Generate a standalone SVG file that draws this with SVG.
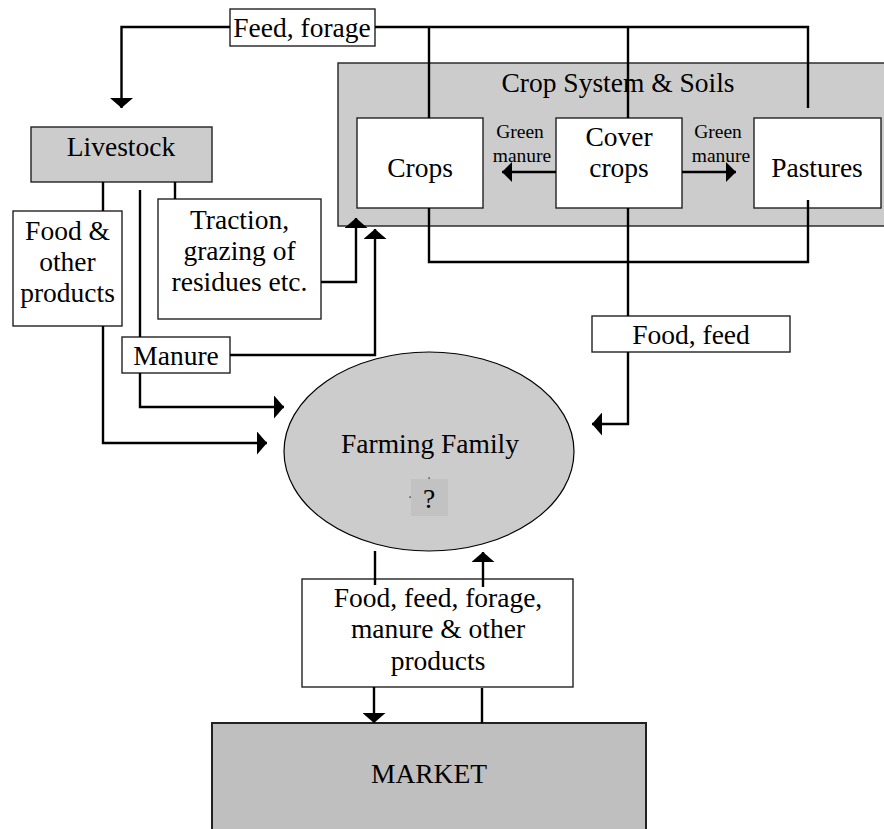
<svg xmlns="http://www.w3.org/2000/svg" width="884" height="829" viewBox="0 0 884 829">
  <style>
    text { font-family: "Liberation Serif", "Times New Roman", serif; font-size: 27.5px; fill: #000; text-anchor: middle; }
    .small { font-size: 19.5px; }
    .box { fill: #fff; stroke: #222; stroke-width: 1.4; }
    .grey { fill: #cccccc; stroke: #222; stroke-width: 1.4; }
    .wire { fill: none; stroke: #000; stroke-width: 2.4; }
  </style>
  <defs>
    <marker id="head" viewBox="0 0 10 23" refX="10" refY="11.5" markerWidth="10" markerHeight="23" markerUnits="userSpaceOnUse" orient="auto">
      <path d="M0,0L10,11.5L0,23z" fill="#000"/>
    </marker>
    <marker id="headS" viewBox="0 0 10 20" refX="10" refY="10" markerWidth="10" markerHeight="20" markerUnits="userSpaceOnUse" orient="auto">
      <path d="M0,0L10,10L0,20z" fill="#000"/>
    </marker>
  </defs>

  <rect width="884" height="829" fill="#fff"/>

  <!-- crop system container -->
  <g id="crop-system">
    <rect class="grey" x="338" y="63" width="560" height="163"/>
    <text x="618" y="92">Crop System &amp; Soils</text>
  </g>
  <g id="crops">
    <rect class="box" x="357" y="118" width="126" height="90"/>
    <text x="420" y="177">Crops</text>
  </g>
  <g id="cover-crops">
    <rect class="box" x="556" y="118" width="126" height="90"/>
    <text x="619" y="146">Cover</text>
    <text x="619" y="177">crops</text>
  </g>
  <g id="pastures">
    <rect class="box" x="754" y="118" width="127" height="90"/>
    <text x="817" y="177">Pastures</text>
  </g>
  <g id="green-manure-left">
    <text class="small" x="520" y="138">Green</text>
    <text class="small" x="522" y="162">manure</text>
  </g>
  <g id="green-manure-right">
    <text class="small" x="718" y="138">Green</text>
    <text class="small" x="721" y="162">manure</text>
  </g>

  <g id="feed-forage">
    <rect class="box" x="230" y="9" width="145" height="37"/>
    <text x="302" y="37">Feed, forage</text>
  </g>
  <g id="livestock">
    <rect class="grey" x="31" y="127" width="181" height="55" stroke-width="1.6"/>
    <text x="121" y="156">Livestock</text>
  </g>
  <g id="food-other-products">
    <rect class="box" x="13" y="211" width="109" height="115"/>
    <text x="67.5" y="240">Food &amp;</text>
    <text x="67.5" y="271">other</text>
    <text x="67.5" y="302">products</text>
  </g>
  <g id="traction">
    <rect class="box" x="158" y="199" width="163" height="120" stroke-width="2"/>
    <text x="239.5" y="229">Traction,</text>
    <text x="239.5" y="260">grazing of</text>
    <text x="239.5" y="291">residues etc.</text>
  </g>
  <g id="manure">
    <rect class="box" x="122" y="337" width="108" height="36"/>
    <text x="176" y="365">Manure</text>
  </g>
  <g id="food-feed">
    <rect class="box" x="592" y="316" width="198" height="36"/>
    <text x="691" y="344">Food, feed</text>
  </g>

  <g id="farming-family">
    <ellipse cx="429" cy="451.5" rx="145" ry="99.5" fill="#cccccc" stroke="#000" stroke-width="1.2"/>
    <text x="430" y="453">Farming Family</text>
    <rect x="411" y="479" width="37" height="37" fill="#c2c2c2"/>
    <text x="429" y="508">?</text>
    <rect x="428.5" y="477.5" width="1.2" height="1.2" fill="#000"/>
    <rect x="409.5" y="496.5" width="1.2" height="1.2" fill="#000"/>
  </g>

  <g id="exchange">
    <rect class="box" x="302" y="579" width="271" height="108" stroke-width="1.6"/>
    <text x="438" y="607">Food, feed, forage,</text>
    <text x="438" y="638">manure &amp; other</text>
    <text x="438" y="670">products</text>
  </g>

  <g id="market">
    <rect x="212" y="723" width="434" height="120" fill="#bfbfbf" stroke="#222" stroke-width="2"/>
    <text x="429" y="783">MARKET</text>
  </g>

  <!-- flows between the parts of the farm -->
  <g id="connectors" class="wire">
    <path class="wire" d="M230,27 H121.5 V108" marker-end="url(#head)"/>
    <path class="wire" d="M375,27 H808 V108"/>
    <path class="wire" d="M429,27 V118"/>
    <path class="wire" d="M628,27 V118"/>
    <path class="wire" d="M429,208 V262 H808 V200"/>
    <path class="wire" d="M628,208 V316"/>
    <path class="wire" d="M628,352 V424 H592" marker-end="url(#head)"/>
    <path class="wire" d="M556,172 H502" marker-end="url(#headS)"/>
    <path class="wire" d="M682,172 H736" marker-end="url(#headS)"/>
    <path class="wire" d="M103,182 V211"/>
    <path class="wire" d="M175,182 V199"/>
    <path class="wire" d="M140,190 V337"/>
    <path class="wire" d="M321,282 H356 V218" marker-end="url(#head)"/>
    <path class="wire" d="M230,355 H375 V229" marker-end="url(#head)"/>
    <path class="wire" d="M140,373 V407 H284" marker-end="url(#head)"/>
    <path class="wire" d="M103,326 V443 H267" marker-end="url(#head)"/>
    <path class="wire" d="M375,551 V585"/>
    <path class="wire" d="M483,587 V552" marker-end="url(#head)"/>
    <path class="wire" d="M374,687 V723" marker-end="url(#head)"/>
    <path class="wire" d="M482,688 V723"/>
  </g>
</svg>
